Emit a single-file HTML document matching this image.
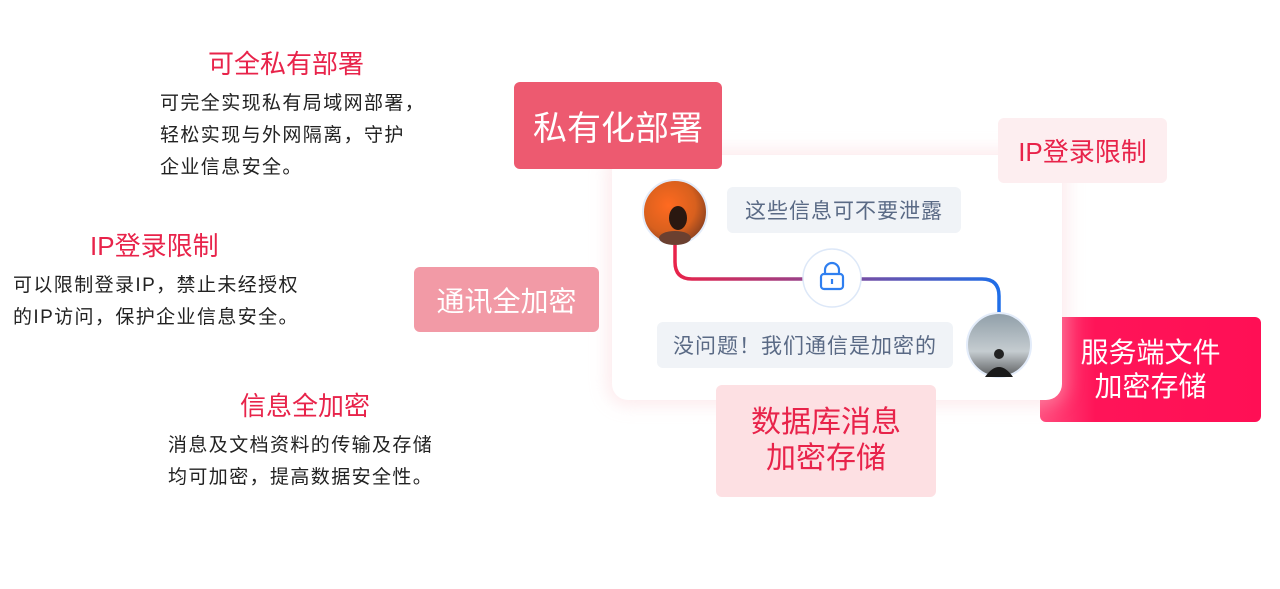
<!DOCTYPE html>
<html><head><meta charset="utf-8"><style>
*{margin:0;padding:0;box-sizing:border-box}
body{width:1280px;height:589px;background:#fff;position:relative;overflow:hidden;font-family:"Liberation Sans","Noto Sans CJK SC",sans-serif}
.a{position:absolute}
.t{color:#e8234a;font-size:26px;white-space:nowrap;line-height:30px}
.b{color:#222;font-size:19px;letter-spacing:1.4px;line-height:32px;white-space:nowrap}
.box{position:absolute;display:flex;align-items:center;justify-content:center;text-align:center;border-radius:6px}
.bub{position:absolute;background:#f0f3f7;border-radius:6px;color:#5a6a85;font-size:21px;letter-spacing:1px;display:flex;align-items:center;justify-content:center}
</style></head><body>
<div class="a t" style="left:208px;top:49px">可全私有部署</div>
<div class="a b" style="left:160px;top:88px">可完全实现私有局域网部署，<br>轻松实现与外网隔离，守护<br>企业信息安全。</div>
<div class="a t" style="left:90px;top:231px">IP登录限制</div>
<div class="a b" style="left:13px;top:270px">可以限制登录IP，禁止未经授权<br>的IP访问，保护企业信息安全。</div>
<div class="a t" style="left:240px;top:391px">信息全加密</div>
<div class="a b" style="left:168px;top:430px">消息及文档资料的传输及存储<br>均可加密，提高数据安全性。</div>

<div class="box" style="left:1040px;top:317px;width:221px;height:105px;background:linear-gradient(90deg,#ff4d7e,#ff1458 25%,#ff0f55);color:#fff;font-size:28px;line-height:34px">服务端文件<br>加密存储</div>
<div class="a" style="left:612px;top:155px;width:450px;height:245px;background:#fff;border-radius:16px;box-shadow:0 0 16px 6px rgba(250,200,205,.35)"></div>
<div class="box" style="left:514px;top:82px;width:208px;height:87px;background:#ed5a70;color:#fff;font-size:34px">私有化部署</div>
<div class="box" style="left:998px;top:118px;width:169px;height:65px;background:#fdeef0;color:#e8234a;font-size:26px">IP登录限制</div>
<div class="box" style="left:414px;top:267px;width:185px;height:65px;background:#f29aa6;color:#fff;font-size:28px">通讯全加密</div>
<div class="box" style="left:716px;top:385px;width:220px;height:112px;background:#fde0e3;color:#e8234a;font-size:30px;line-height:36px">数据库消息<br>加密存储</div>

<div class="bub" style="left:727px;top:187px;width:234px;height:46px">这些信息可不要泄露</div>
<div class="bub" style="left:657px;top:322px;width:296px;height:46px">没问题！我们通信是加密的</div>

<svg class="a" style="left:0;top:0" width="1280" height="589">
<defs>
<linearGradient id="g" x1="675" y1="0" x2="999" y2="0" gradientUnits="userSpaceOnUse"><stop offset="0" stop-color="#e8234a"/><stop offset="1" stop-color="#1f6ee8"/></linearGradient>
<radialGradient id="a1" cx=".4" cy=".4" r=".7"><stop offset="0" stop-color="#ff6a20"/><stop offset=".6" stop-color="#d8601e"/><stop offset="1" stop-color="#7a3a20"/></radialGradient>
<linearGradient id="a2" x1="0" y1="0" x2="0" y2="1"><stop offset="0" stop-color="#8f9ea8"/><stop offset=".6" stop-color="#c5ccd0"/><stop offset="1" stop-color="#5a5c5e"/></linearGradient>
</defs>
<path d="M675 245 V262 Q675 279 692 279 H982 Q999 279 999 296 V313" fill="none" stroke="url(#g)" stroke-width="3.5"/>
<circle cx="832" cy="278" r="29" fill="#fff" stroke="#dde8f8" stroke-width="1.5"/>
<rect x="821" y="274" width="22" height="15" rx="3" fill="none" stroke="#2f7ff0" stroke-width="2.2"/>
<path d="M825 274 v-4 a7 7 0 0 1 14 0 v4" fill="none" stroke="#2f7ff0" stroke-width="2.2"/>
<line x1="832" y1="279" x2="832" y2="284" stroke="#2f7ff0" stroke-width="2.2"/>
<circle cx="675" cy="212" r="32" fill="url(#a1)" stroke="#e3ecfa" stroke-width="2"/>
<ellipse cx="678" cy="218" rx="9" ry="12" fill="#2a1810"/>
<ellipse cx="675" cy="238" rx="16" ry="7" fill="#6b4030"/>
<circle cx="999" cy="345" r="32" fill="url(#a2)" stroke="#e3ecfa" stroke-width="2"/>
<circle cx="999" cy="354" r="5" fill="#222"/>
<path d="M985 377 q14 -20 28 0z" fill="#1a1a1a"/>
</svg>
</body></html>
